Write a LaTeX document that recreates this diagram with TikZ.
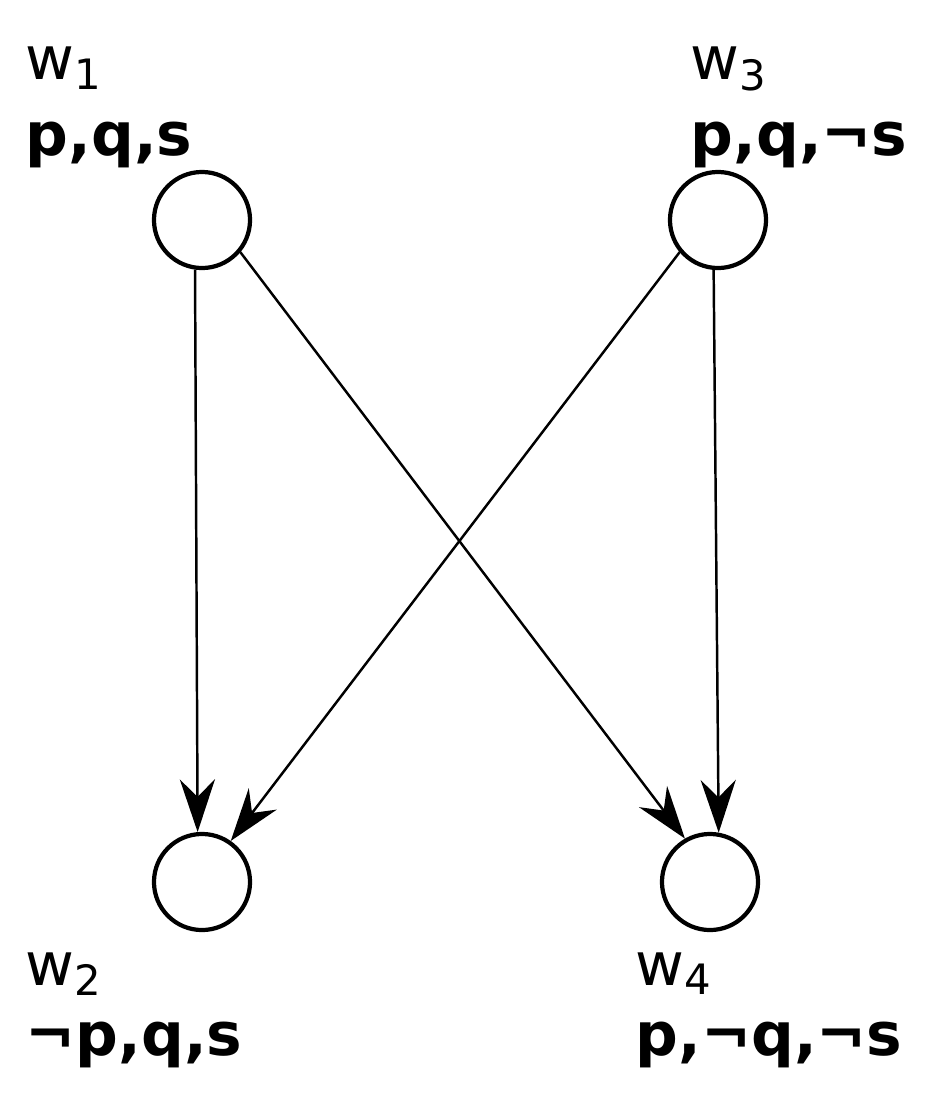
\documentclass[tikz,border=0pt]{standalone}
\usepackage{fontspec}
\setmainfont{DejaVu Sans}
\usetikzlibrary{arrows.meta}
\begin{document}
\begin{tikzpicture}[x=0.01cm,y=-0.01cm,
  w/.style={circle,draw,line width=1.2pt,minimum size=0.96cm,inner sep=0},
  lab/.style={anchor=base west,inner sep=0,font=\fontsize{17}{20}\selectfont},
  pr/.style={anchor=base west,inner sep=0,font=\fontsize{17}{20}\selectfont\bfseries},
  ar/.style={line width=0.7pt,-{Stealth[length=15pt,width=10pt,inset=5pt]}}]
\useasboundingbox (0,0) rectangle (942,1100);
\node[w] (w1) at (202,220) {};
\node[w] (w3) at (718,220) {};
\node[w] (w2) at (202,882) {};
\node[w] (w4) at (710,882) {};
\node[lab] (l1) at (25,80) {w\textsubscript{1}};
\node[pr] (p1) at (25,155) {p,q,s};
\node[lab] (l3) at (690,80) {w\textsubscript{3}};
\node[pr] (p3) at (690,155) {p,q,¬s};
\node[lab] (l2) at (25,985) {w\textsubscript{2}};
\node[pr] (p2) at (25,1055) {¬p,q,s};
\node[lab] (l4) at (635,985) {w\textsubscript{4}};
\node[pr] (p4) at (635,1055) {p,¬q,¬s};
\draw[ar] (w1.-98) -- (w2.95);
\draw[ar] (w1.-40) -- (w4.120);
\draw[ar] (w3.-140) -- (w2.55);
\draw[ar] (w3.-95) -- (w4.80);
\end{tikzpicture}
\end{document}
